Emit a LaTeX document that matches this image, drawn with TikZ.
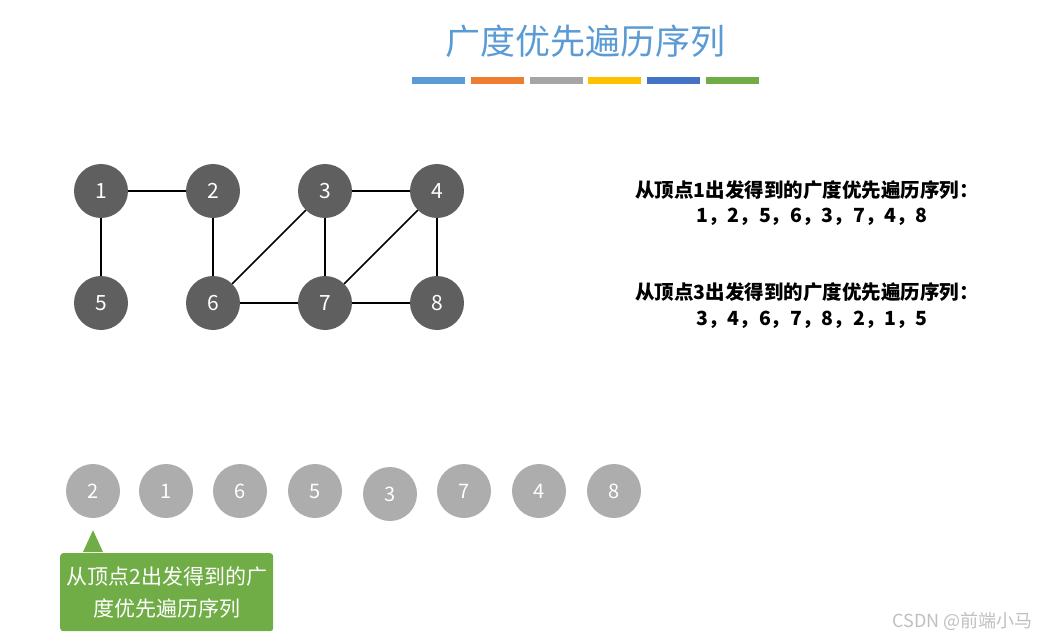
\documentclass[tikz,border=0pt]{standalone}
\usepackage{fontspec}
\setmainfont{Noto Sans CJK SC}
\definecolor{titleblue}{HTML}{5B9BD5}
\definecolor{barorange}{HTML}{ED7D31}
\definecolor{bargray}{HTML}{A5A5A5}
\definecolor{baryellow}{HTML}{FFC000}
\definecolor{barblue}{HTML}{4472C4}
\definecolor{bargreen}{HTML}{70AD47}
\definecolor{vertexdark}{HTML}{5F5F5F}
\definecolor{queuegray}{HTML}{ADADAD}
\begin{document}
\begin{tikzpicture}[x=1pt, y=-1pt,
  vertex/.style={circle, fill=vertexdark, minimum size=54pt, inner sep=0pt,
    text=white, font=\fontsize{21}{24}\selectfont},
  queued/.style={circle, fill=queuegray, minimum size=54pt, inner sep=0pt,
    text=white, font=\fontsize{20}{23}\selectfont},
  edge/.style={line width=1.5pt, black},
  seqtext/.style={font=\bfseries\fontsize{19.5}{22}\selectfont}]
\useasboundingbox (0,0) rectangle (1038,639);

%% --- title ---
\node[text=titleblue, font=\fontsize{35}{40}\selectfont] (title) at (585,41) {广度优先遍历序列};

%% --- colour bars ---
\foreach \c [count=\i from 0] in {titleblue, barorange, bargray, baryellow, barblue, bargreen}{
  \fill[\c] (412+58.8*\i,77) rectangle ++(53,7);
}

%% --- graph ---
\foreach \n/\x/\y in {1/101/191, 2/213/191, 3/325/191, 4/437/191,
                      5/101/303, 6/213/303, 7/325/303, 8/437/303}{
  \node[vertex] (v\n) at (\x,\y) {\n};
}
\foreach \a/\b in {1/2, 1/5, 2/6, 3/4, 3/6, 3/7, 4/7, 4/8, 6/7, 7/8}{
  \draw[edge] (v\a) -- (v\b);
}

%% --- sequences ---
\node[seqtext] (from1) at (807,190) {从顶点1出发得到的广度优先遍历序列：};
\node[seqtext] (seq1)  at (812,217) {1，2，5，6，3，7，4，8};
\node[seqtext] (from3) at (807,292) {从顶点3出发得到的广度优先遍历序列：};
\node[seqtext] (seq3)  at (812,320) {3，4，6，7，8，2，1，5};

%% --- queue ---
\foreach \n/\x/\y [count=\i] in {2/93/491, 1/166/491, 6/240/491, 5/315/491,
                                 3/390/494, 7/464/491, 4/539/491, 8/614/491}{
  \node[queued] (q\i) at (\x,\y) {\n};
}

%% --- callout ---
\node[fill=bargreen, rounded corners=3pt, text=white, minimum width=213pt,
  minimum height=78pt, align=center, font=\fontsize{21}{32}\selectfont,
  anchor=north west] (note) at (60,553) {从顶点2出发得到的广\\度优先遍历序列};
\fill[bargreen] ([yshift=-12pt]q1.south) -- ([xshift=23pt,yshift=1pt]note.north west)
  -- ([xshift=43pt,yshift=1pt]note.north west) -- cycle;

%% --- watermark ---
\node[text=black!25, font=\fontsize{18}{20}\selectfont, anchor=east] (mark) at (1036,621) {CSDN @前端小马};
\end{tikzpicture}
\end{document}
